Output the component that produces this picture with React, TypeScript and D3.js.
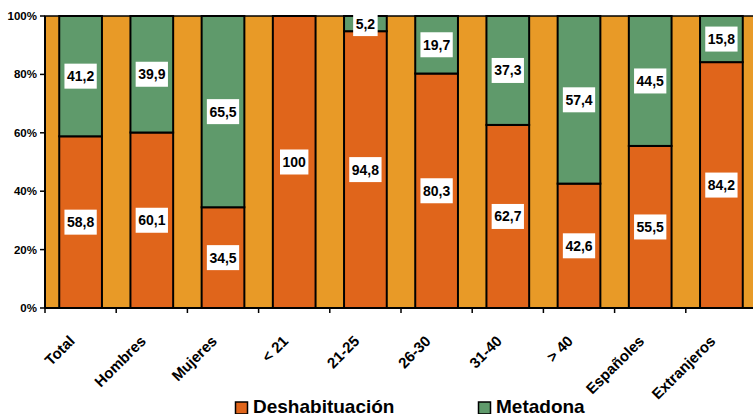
import React from "react";
import * as d3 from "d3";

const categories = ["Total", "Hombres", "Mujeres", "< 21", "21-25", "26-30", "31-40", "> 40", "Españoles", "Extranjeros"];
const deshabituacion = [58.8, 60.1, 34.5, 100, 94.8, 80.3, 62.7, 42.6, 55.5, 84.2];
const metadona = [41.2, 39.9, 65.5, 0, 5.2, 19.7, 37.3, 57.4, 44.5, 15.8];
const yTicks = [0, 20, 40, 60, 80, 100];
const seriesNames = ["Deshabituación", "Metadona"];

const W = 753, H = 414;
const left = 45, right = 757, top = 16, bottom = 308;
const C_DES = "#E0651B";
const C_MET = "#5F9A6B";
const C_BG = "#E89A27";
const FONT = "'Liberation Sans', Arial, Helvetica, sans-serif";

const fmt = (v: number) => String(v).replace(".", ",");
const textW = (t: string) => t.split("").reduce((s, ch) => s + (ch === "," ? 3.9 : 7.8), 0);

export default function App() {
  const x = d3.scaleBand<string>().domain(categories).range([left, right]).paddingInner(0).paddingOuter(0);
  const y = d3.scaleLinear().domain([0, 100]).range([bottom, top]);
  const bw = x.bandwidth() * 0.6;

  const labels: { cx: number; cy: number; t: string }[] = [];
  categories.forEach((c, i) => {
    const cx = x(c)! + x.bandwidth() / 2;
    if (deshabituacion[i] > 0) labels.push({ cx, cy: (y(0) + y(deshabituacion[i])) / 2, t: fmt(deshabituacion[i]) });
    if (metadona[i] > 0) labels.push({ cx, cy: (y(deshabituacion[i]) + y(deshabituacion[i] + metadona[i])) / 2, t: fmt(metadona[i]) });
  });

  return (
    <div style={{ position: "absolute", left: 0, top: 0 }}>
      <svg width={W} height={H} style={{ display: "block", fontFamily: FONT }}>
        <rect x={0} y={0} width={W} height={H} fill="#fff" />
        <rect x={left} y={top} width={right - left} height={bottom - top} fill={C_BG} stroke="#000" strokeWidth={1.5} />
        {categories.map((c, i) => {
          const x0 = x(c)! + (x.bandwidth() - bw) / 2;
          return (
            <g key={c}>
              <rect x={x0} y={y(deshabituacion[i])} width={bw} height={y(0) - y(deshabituacion[i])} fill={C_DES} stroke="#000" strokeWidth={2} />
              {metadona[i] > 0 && (
                <rect x={x0} y={y(deshabituacion[i] + metadona[i])} width={bw} height={y(deshabituacion[i]) - y(deshabituacion[i] + metadona[i])} fill={C_MET} stroke="#000" strokeWidth={2} />
              )}
            </g>
          );
        })}
        {labels.map((l, i) => {
          const w = textW(l.t) + 5;
          return (
            <g key={i}>
              <rect x={l.cx - w / 2} y={l.cy - 12.5} width={w} height={25} fill="#fff" />
              <text x={l.cx} y={l.cy + 5} textAnchor="middle" fontSize={14} fontWeight="bold" fill="#000">{l.t}</text>
            </g>
          );
        })}
        {/* y axis */}
        <line x1={left} x2={left} y1={top} y2={bottom} stroke="#000" strokeWidth={2} />
        {yTicks.map((t) => (
          <g key={t}>
            <line x1={left - 5} x2={left} y1={y(t)} y2={y(t)} stroke="#000" strokeWidth={1.5} />
            <text x={37} y={y(t) + 4} textAnchor="end" fontSize={11.5} fontWeight="bold">{t}%</text>
          </g>
        ))}
        {/* x axis */}
        <line x1={left} x2={right} y1={bottom} y2={bottom} stroke="#000" strokeWidth={2} />
        {categories.map((c) => (
          <line key={c} x1={x(c)!} x2={x(c)!} y1={bottom} y2={bottom + 5} stroke="#000" strokeWidth={1.5} />
        ))}
        {categories.map((c) => {
          const cx = x(c)! + x.bandwidth() / 2;
          return (
            <text key={c} transform={`translate(${cx - 5},${bottom + 34}) rotate(-45)`} textAnchor="end" fontSize={15} fontWeight="bold">{c}</text>
          );
        })}
        {/* legend */}
        <rect x={235.5} y={402} width={12} height={12} fill={C_DES} stroke="#000" strokeWidth={1.5} />
        <text x={253} y={413} fontSize={19} fontWeight="bold">{seriesNames[0]}</text>
        <rect x={478.5} y={402} width={12} height={12} fill={C_MET} stroke="#000" strokeWidth={1.5} />
        <text x={496} y={413} fontSize={19} fontWeight="bold">{seriesNames[1]}</text>
      </svg>
    </div>
  );
}
